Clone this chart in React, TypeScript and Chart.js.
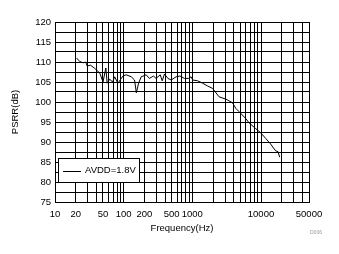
import React, { useEffect, useRef } from "react";
import { Chart, registerables } from "chart.js";

Chart.register(...registerables);

const frequencyHz = [20.6, 23, 25.7, 28, 29.4, 32.9, 38, 45, 50, 55, 57.5, 62.6, 69, 74, 82.6, 97.7, 109, 129, 144, 153, 165, 180, 213, 237, 272, 296, 341, 364, 393, 440, 492, 580, 660, 765, 880, 958, 1013, 1195, 1410, 1670, 1970, 2450, 3090, 3850, 4300, 4780, 5960, 6700, 8300, 9900, 11700, 13800, 16300, 17700, 18700];
const psrrDb = [111, 110.1, 109.8, 110, 109, 109.2, 108.4, 107.2, 105, 108.5, 104.7, 105.7, 105, 106.3, 104.7, 106.5, 106.8, 106.3, 105.5, 102.3, 104.7, 106.3, 106.8, 105.9, 106.5, 105.9, 106.8, 105.3, 107, 105.9, 105.5, 106.3, 106.5, 105.9, 105.9, 106.3, 105.5, 105.3, 104.7, 104, 103.4, 101.3, 100.7, 99.8, 98.4, 97.6, 95.9, 94.8, 93.4, 92.3, 90.9, 89.5, 87.8, 87.6, 86.2];
const seriesLabel = "AVDD=1.8V";
const xTickLabels = [10, 20, 50, 100, 200, 500, 1000, 10000, 50000];
const xTitle = "Frequency(Hz)";
const yTitle = "PSRR(dB)";
const figureId = "D006";

const FONT = "'Liberation Sans', Arial, sans-serif";
const FS = 9.5;

function gridValues(): number[] {
  const out: number[] = [];
  for (let e = 1; e <= 4; e++) {
    for (let s = 1; s <= 9; s++) {
      const v = s * Math.pow(10, e);
      if (v <= 50000) out.push(v);
    }
  }
  return out;
}

const extrasPlugin = {
  id: "extras",
  afterDraw(chart: any) {
    const ctx = chart.ctx;
    const a = chart.chartArea;
    ctx.save();
    const bx = a.left + 3, by = a.bottom - 44, bw = 81, bh = 24;
    ctx.fillStyle = "#fff";
    ctx.fillRect(bx, by, bw, bh);
    ctx.strokeStyle = "#000";
    ctx.lineWidth = 1;
    ctx.strokeRect(bx + 0.5, by + 0.5, bw, bh);
    ctx.beginPath();
    ctx.moveTo(bx + 5, by + 13.5);
    ctx.lineTo(bx + 23, by + 13.5);
    ctx.stroke();
    ctx.fillStyle = "#000";
    ctx.font = `${FS}px ${FONT}`;
    ctx.textBaseline = "middle";
    ctx.textAlign = "left";
    ctx.fillText(chart.data.datasets[0].label, bx + 27, by + 12.5);
    ctx.fillStyle = "#999";
    ctx.font = `5px ${FONT}`;
    ctx.fillText(figureId, a.right + 1, a.bottom + 31);
    ctx.restore();
  },
};

export default function App() {
  const ref = useRef<HTMLCanvasElement | null>(null);
  useEffect(() => {
    if (!ref.current) return;
    const chart = new Chart(ref.current, {
      type: "line",
      data: {
        datasets: [
          {
            label: seriesLabel,
            data: frequencyHz.map((f, i) => ({ x: f, y: psrrDb[i] })),
            borderColor: "#000",
            borderWidth: 1,
            pointRadius: 0,
            tension: 0,
            fill: false,
          },
        ],
      },
      options: {
        responsive: false,
        animation: false,
        layout: { padding: { top: 22, right: 30, left: 0, bottom: 0 } },
        plugins: { legend: { display: false }, tooltip: { enabled: false } },
        scales: {
          x: {
            type: "logarithmic",
            min: 10,
            max: 50000,
            afterBuildTicks: (scale: any) => {
              scale.ticks = gridValues().map((v) => ({ value: v }));
            },
            afterFit: (scale: any) => {
              scale.height = 52;
            },
            grid: { color: "#000", lineWidth: 1, drawTicks: false },
            border: { color: "#000", width: 1 },
            ticks: {
              autoSkip: false,
              maxRotation: 0,
              padding: 7,
              color: "#000",
              font: { family: FONT, size: FS },
              callback: (v: any) => (xTickLabels.includes(Number(v)) ? String(v) : ""),
            },
            title: {
              display: true,
              text: xTitle,
              color: "#000",
              font: { family: FONT, size: FS },
              padding: { top: 0, bottom: 20 },
            },
          },
          y: {
            min: 75,
            max: 120,
            afterFit: (scale: any) => {
              scale.width = 55;
            },
            grid: { color: "#000", lineWidth: 1, drawTicks: false },
            border: { color: "#000", width: 1 },
            ticks: {
              stepSize: 2.5,
              autoSkip: false,
              padding: 4,
              color: "#000",
              font: { family: FONT, size: FS },
              callback: (v: any) => (Number(v) % 5 === 0 ? String(v) : ""),
            },
            title: {
              display: true,
              text: yTitle,
              color: "#000",
              font: { family: FONT, size: FS },
              padding: { top: 10, bottom: 0 },
            },
          },
        },
      },
      plugins: [extrasPlugin],
    } as any);
    return () => chart.destroy();
  }, []);
  return (
    <div style={{ position: "absolute", left: 0, top: 0, width: 339, height: 254, background: "#fff" }}>
      <canvas ref={ref} width={339} height={254} style={{ width: 339, height: 254, display: "block" }} />
    </div>
  );
}
